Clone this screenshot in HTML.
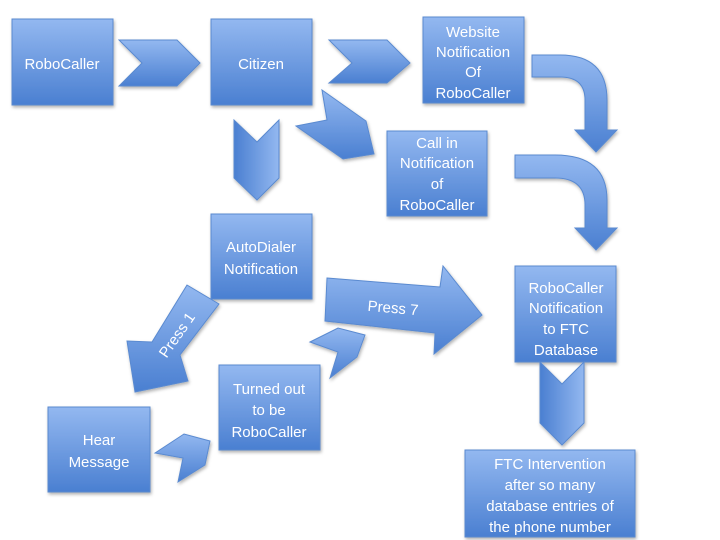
<!DOCTYPE html>
<html><head><meta charset="utf-8"><style>
html,body{margin:0;padding:0;background:#fff;}
svg{display:block;}
text{font-family:"Liberation Sans",sans-serif;font-size:15px;fill:#fff;text-anchor:middle;}
</style></head><body>
<svg width="720" height="540" viewBox="0 0 720 540" xmlns="http://www.w3.org/2000/svg">
<defs>
<linearGradient id="g" x1="0" y1="0" x2="0" y2="1">
<stop offset="0" stop-color="#93b8f0"/><stop offset="1" stop-color="#4a7fd1"/></linearGradient>
<linearGradient id="gh" x1="0" y1="0" x2="1" y2="0">
<stop offset="0" stop-color="#4a7fd1"/><stop offset="1" stop-color="#93b8f0"/></linearGradient>
<filter id="s" x="-10%" y="-10%" width="130%" height="130%"><feDropShadow dx="1" dy="2" stdDeviation="1.5" flood-color="#000" flood-opacity="0.3"/></filter>
</defs>
<g fill="url(#g)" stroke="#5a8ad0" stroke-width="1" filter="url(#s)">
<rect x="12" y="19" width="101" height="86"/>
<rect x="211" y="19" width="101" height="86"/>
<rect x="423" y="17" width="101" height="86"/>
<rect x="387" y="131" width="100" height="85"/>
<rect x="211" y="214" width="101" height="85"/>
<rect x="219" y="365" width="101" height="85"/>
<rect x="48" y="407" width="102" height="85"/>
<rect x="515" y="266" width="101" height="96"/>
<rect x="465" y="450" width="170" height="87"/>
<polygon points="119,40 177,40 200,63 177,86 119,86 142,63"/>
<polygon points="329,40 387,40 410,63 387,83 329,83 352,63"/>
<polygon points="234,120 257,142 279,120 279,178 257,200 234,178" fill="url(#gh)"/>
<polygon points="322,90 366,121 374,154 343,159 296,126 327,120"/>
<polygon points="540,362 562,384 584,362 584,423 562,445 540,423" fill="url(#gh)"/>
<polygon points="327,278 440,287 443,266 482,315 434,354 435,333 325,321"/>
<polygon points="187,285 219,304 180,355 188,381 135,392 127,341 152,342"/>
<polygon points="310,342 338,328 365,335 357,357 330,378 338,352"/>
<polygon points="155,453 184,434 210,441 205,465 178,482 183,458"/>
<path d="M532,55 L560,55 Q607,55 607,100 L607,130 L617,130 L596,152 L575,130 L585,130 L585,100 Q585,77 560,77 L532,77 Z"/>
<path d="M515,155 L555,155 Q607,155 607,200 L607,228 L617,228 L596,250 L575,228 L585,228 L585,205 Q585,178 555,178 L515,178 Z"/>
</g>
<text x="62" y="69">RoboCaller</text>
<text x="261" y="69">Citizen</text>
<text x="473" y="37">Website</text>
<text x="473" y="57">Notification</text>
<text x="473" y="77">Of</text>
<text x="473" y="98">RoboCaller</text>
<text x="437" y="148">Call in</text>
<text x="437" y="168">Notification</text>
<text x="437" y="189">of</text>
<text x="437" y="210">RoboCaller</text>
<text x="261" y="252">AutoDialer</text>
<text x="261" y="274">Notification</text>
<text x="269" y="394">Turned out</text>
<text x="269" y="415">to be</text>
<text x="269" y="437">RoboCaller</text>
<text x="99" y="445">Hear</text>
<text x="99" y="467">Message</text>
<text x="566" y="293">RoboCaller</text>
<text x="566" y="313">Notification</text>
<text x="566" y="334">to FTC</text>
<text x="566" y="355">Database</text>
<text x="550" y="469">FTC Intervention</text>
<text x="550" y="490">after so many</text>
<text x="550" y="511">database entries of</text>
<text x="550" y="532">the phone number</text>
<text x="393" y="313" transform="rotate(5 393 309)">Press 7</text>
<text x="177" y="340" transform="rotate(-55 177 335)">Press 1</text>
</svg>
</body></html>
